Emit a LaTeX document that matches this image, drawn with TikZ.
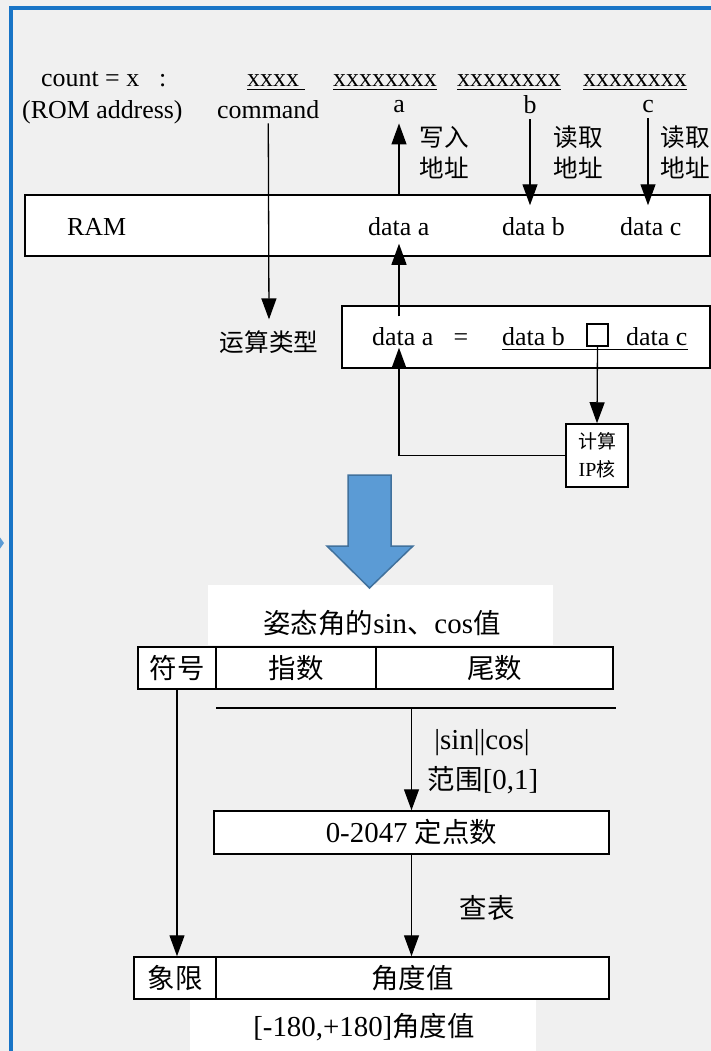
\documentclass[tikz,border=0pt]{standalone}
\usepackage{fontspec}
\setmainfont{Liberation Serif}
\newfontfamily\cjk[Scale=0.95]{Noto Sans CJK SC}
\usetikzlibrary{arrows.meta}
\newcommand\zh[1]{{\cjk #1}}
\definecolor{pagebg}{HTML}{F0F0F0}
\definecolor{framebl}{HTML}{1874C6}
\definecolor{arrowfill}{HTML}{5B9BD5}
\definecolor{arrowline}{HTML}{41719C}

\begin{document}
\begin{tikzpicture}[x=1bp,y=-1bp,
  box/.style={draw=black,line width=1.5bp,fill=white,inner sep=0pt},
  conn/.style={line width=1.3bp,-{Triangle[length=21bp,width=15bp]}},
  plainline/.style={line width=1.3bp},
  toptext/.style={inner sep=0pt,font=\fontsize{26}{30}\selectfont},
  bottext/.style={inner sep=0pt,font=\fontsize{29}{33}\selectfont},
  iptext/.style={inner sep=0pt,font=\fontsize{20}{28}\selectfont,align=center},
]
\useasboundingbox (0,0) rectangle (711,1051);
% page background and frame
\fill[pagebg] (0,0) rectangle (711,1051);
\fill[white] (208,585) rectangle (553,645);
\fill[white] (190,1000) rectangle (536,1051);
\draw[framebl,line width=4bp] (10.5,1051) -- (10.5,8) -- (711,8);
\fill[arrowfill] (-1,536) -- (4,543) -- (-1,550) -- cycle;

% ---- instruction word ----
\node[toptext,anchor=base west] (cnt) at (41,86) {count = x};
\node[toptext,anchor=base west] (colon) at (159,86) {:};
\node[toptext,anchor=base west] (f0) at (247,86) {xxxx};
\node[toptext,anchor=base west] (f1) at (333,86) {xxxxxxxx};
\node[toptext,anchor=base west] (f2) at (457,86) {xxxxxxxx};
\node[toptext,anchor=base west] (f3) at (583,86) {xxxxxxxx};
\draw[line width=1bp] ([yshift=-3bp]f0.base west) -- ([yshift=-3bp,xshift=6bp]f0.base east);
\foreach \f in {f1,f2,f3}
  \draw[line width=1bp] ([yshift=-3bp]\f.base west) -- ([yshift=-3bp]\f.base east);
\node[toptext,anchor=base west] (rom) at (22,118) {(ROM address)};
\node[toptext,anchor=base west] (cmd) at (217,118) {command};
\node[toptext,anchor=base] (la) at (399,112) {a};
\node[toptext,anchor=base] (lb) at (530,113) {b};
\node[toptext,anchor=base] (lc) at (648,112) {c};
\node[toptext] (wa1) at (444,137) {\zh{写入}};
\node[toptext] (wa2) at (444,168) {\zh{地址}};
\node[toptext] (rb1) at (578,137) {\zh{读取}};
\node[toptext] (rb2) at (578,168) {\zh{地址}};
\node[toptext] (rc1) at (685.5,137) {\zh{读取}};
\node[toptext] (rc2) at (685.5,168) {\zh{地址}};

% ---- RAM ----
\node[box,minimum width=685bp,minimum height=61bp] (ram) at (367.5,225.5) {};
\node[toptext,anchor=base west] (ramt) at (67,235) {RAM};
\node[toptext,anchor=base west] (ramA) at (368,235) {data a};
\node[toptext,anchor=base west] (ramB) at (502,235) {data b};
\node[toptext,anchor=base west] (ramC) at (620,235) {data c};

% ---- operation ----
\node[toptext] (optype) at (269,342) {\zh{运算类型}};
\node[box,minimum width=368bp,minimum height=62bp] (op) at (526,337) {};
\node[toptext,anchor=base west] (opa) at (372,345) {data a};
\node[toptext,anchor=base] (opeq) at (461,345) {=};
\node[toptext,anchor=base west] (opb) at (502,345) {data b};
\node[draw=black,line width=1.2bp,fill=white,minimum width=21bp,minimum height=22bp,inner sep=0pt] (sq) at (597.5,335) {};
\node[toptext,anchor=base west] (opc) at (626,345) {data c};
\draw[line width=1bp] ([yshift=-4bp]opb.base west) -- ([yshift=-4bp]opc.base east);
\node[box,iptext,minimum width=62bp,minimum height=63bp] (ip) at (597,455.5) {\zh{计算}\\IP\zh{核}};

% ---- connectors of the upper part ----
\draw[conn] ([yshift=-5bp]cmd.south) -- ([yshift=11bp]optype.north);
\draw[conn] (la |- ram.north) -- ([yshift=-11bp]la.south);
\draw[conn] ([yshift=-6bp]lb.south) -- ([yshift=-11bp]lb |- ram.north);
\draw[conn] ([yshift=-6bp]lc.south) -- ([yshift=-11bp]lc |- ram.north);
\draw[conn] ([yshift=-11bp]la |- op.north) -- ([yshift=13bp]la |- ram.south);
\draw[conn] (sq.south) -- (ip.north);
\draw[conn] (ip.west) -| ([yshift=21bp]la |- op.south);

% ---- big arrow ----
\filldraw[fill=arrowfill,draw=arrowline,line width=1.5bp,line join=miter]
  (348,475) -- (391,475) -- (391,546) -- (413,546) -- (369.5,588) -- (327,546) -- (348,546) -- cycle;

% ---- floating point to angle ----
\node[bottext] (title) at (382,623) {\zh{姿态角的}sin\zh{、}cos\zh{值}};
\node[box,bottext,minimum width=78bp,minimum height=42bp] (sgn) at (177,668) {\zh{符号}};
\node[box,bottext,minimum width=160bp,minimum height=42bp] (expo) at (296,668) {\zh{指数}};
\node[box,bottext,minimum width=237bp,minimum height=42bp] (mant) at (494.5,668) {\zh{尾数}};
\coordinate (hl1) at (216,708);
\coordinate (hl2) at (616,708);
\draw[plainline] (hl1) -- (hl2);
\node[box,bottext,minimum width=395bp,minimum height=43bp] (fix) at (411.5,832.5) {0-2047 \zh{定点数}};
\node[bottext] (absl) at (482,743) {|sin||cos|};
\node[bottext] (rng) at (483,780) {\zh{范围}[0,1]};
\node[bottext] (lut) at (487,908) {\zh{查表}};
\node[box,bottext,minimum width=82bp,minimum height=42bp] (quad) at (175,978) {\zh{象限}};
\node[box,bottext,minimum width=393bp,minimum height=42bp] (ang) at (412.5,978) {\zh{角度值}};
\node[bottext] (res) at (364,1027) {[-180,+180]\zh{角度值}};

\draw[conn] (fix.north |- hl1) -- (fix.north);
\draw[conn] (fix.south) -- (fix.south |- ang.north);
\draw[conn] (sgn.south) -- (sgn.south |- quad.north);
\end{tikzpicture}
\end{document}
